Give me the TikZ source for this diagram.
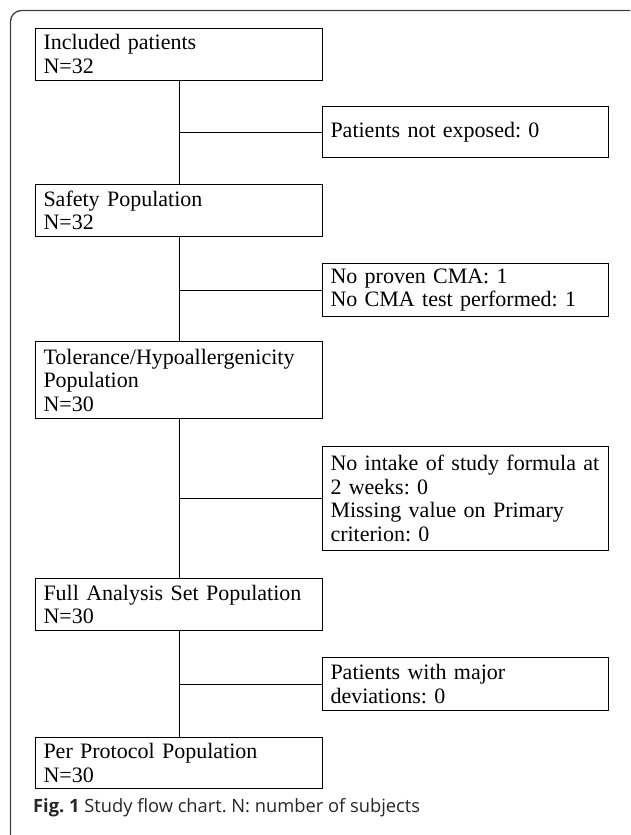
\documentclass[tikz,border=0pt]{standalone}
\usepackage{fontspec}
\setmainfont{Liberation Serif}
\newfontfamily\capfont{Open Sans}
\frenchspacing
\begin{document}
\frenchspacing
\begin{tikzpicture}[x=1pt,y=-1pt,
  box/.style={draw, line width=1pt, anchor=north west, inner xsep=8pt, inner ysep=0pt,
    align=left, font=\fontsize{22}{23.5}\selectfont, text width=271pt},
  sidebox/.style={box, text width=270pt},
  link/.style={line width=1pt}
  ]
\useasboundingbox (0,0) rectangle (630,835);
\begin{scope}
\clip (0,0) rectangle (630,835);
\draw[line width=1.3pt, draw=black!75, rounded corners=11pt] (10.5,10.5) rectangle (645,850);
\end{scope}
\node[box, minimum height=52pt] (b1) at (35,27.5) {Included patients\\N=32};
\node[sidebox, minimum height=51pt] (s1) at (322,106) {Patients not exposed: 0};
\node[box, minimum height=52pt] (b2) at (35,184) {Safety Population\\N=32};
\node[sidebox, minimum height=53pt] (s2) at (322,263) {No proven CMA: 1\\No CMA test performed: 1};
\node[box, minimum height=77pt] (b3) at (35,341) {Tolerance/Hypoallergenicity\\Population\\N=30};
\node[sidebox, minimum height=104pt] (s3) at (322,446) {\mbox{No intake of study formula at}\\2 weeks: 0\\Missing value on Primary\\criterion: 0};
\node[box, minimum height=52pt] (b4) at (35,578) {Full Analysis Set Population\\N=30};
\node[sidebox, minimum height=53pt] (s4) at (322,657) {Patients with major\\deviations: 0};
\node[box, minimum height=51pt] (b5) at (35,737) {Per Protocol Population\\N=30};
\draw[link] (b1.south) -- (b2.north);
\draw[link] (b2.south) -- (b3.north);
\draw[link] (b3.south) -- (b4.north);
\draw[link] (b4.south) -- (b5.north);
\draw[link] (s1.west) -- (b1.south |- s1.west);
\draw[link] (s2.west) -- (b2.south |- s2.west);
\draw[link] (s3.west) -- (b3.south |- s3.west);
\draw[link] (s4.west) -- (b4.south |- s4.west);
\node[anchor=base west, inner sep=0pt, font=\capfont\fontsize{18.3}{18.3}\selectfont, text=black!85] (cap) at (33,812) {\textbf{Fig. 1} Study flow chart. N: number of subjects};
\end{tikzpicture}
\end{document}
